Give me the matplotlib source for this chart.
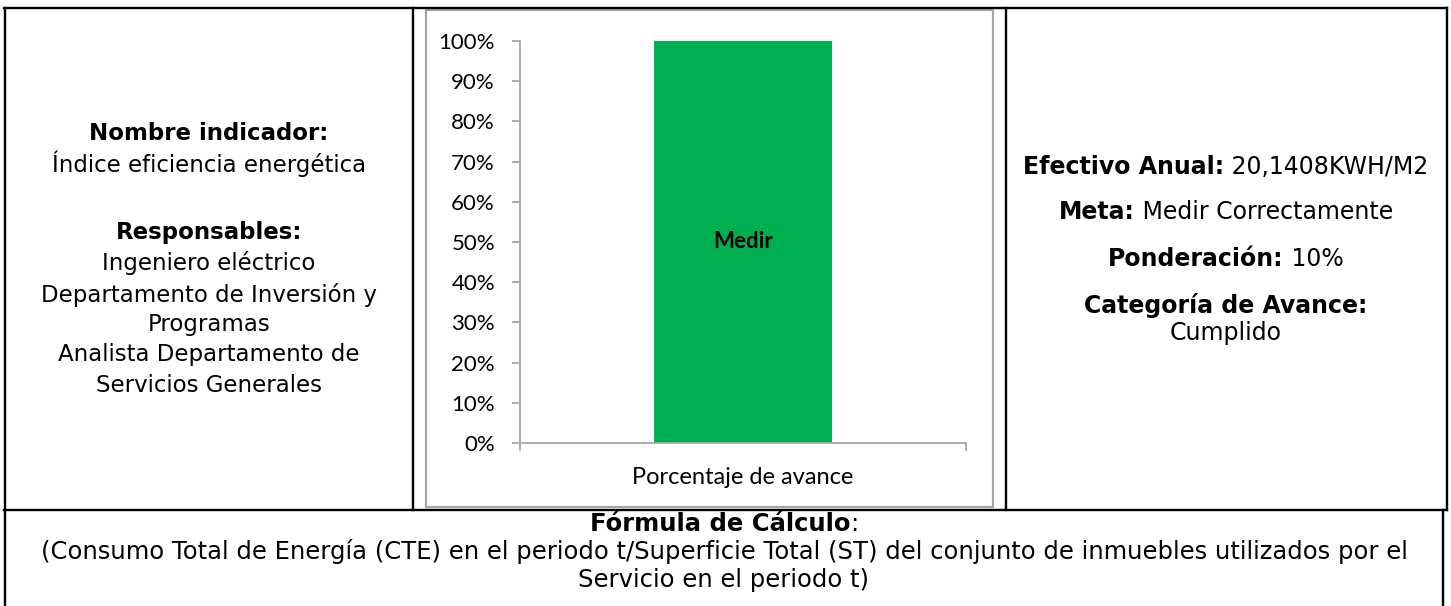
import matplotlib
matplotlib.use('Agg')
import matplotlib.pyplot as plt
from matplotlib.lines import Line2D
from matplotlib.patches import Rectangle

'''
datos
'''
categorias = ['Porcentaje de avance']
avance = [1.0]
etiqueta_barra = ['Medir']
ticks_y = [0, 0.1, 0.2, 0.3, 0.4, 0.5, 0.6, 0.7, 0.8, 0.9, 1.0]

lineas_izq = [('Nombre indicador:', 'bold'),
              ('Índice eficiencia energética', 'normal'),
              ('Responsables:', 'bold'),
              ('Ingeniero eléctrico', 'normal'),
              ('Departamento de Inversión y', 'normal'),
              ('Programas', 'normal'),
              ('Analista Departamento de', 'normal'),
              ('Servicios Generales', 'normal')]
y_izq = [133, 164, 232, 263, 295, 325, 355, 386]

lineas_der = [[('Efectivo Anual:', 'bold'), (' 20,1408KWH/M2', 'normal')],
              [('Meta:', 'bold'), (' Medir Correctamente', 'normal')],
              [('Ponderación:', 'bold'), (' 10%', 'normal')],
              [('Categoría de Avance:', 'bold')],
              [('Cumplido', 'normal')]]
y_der = [167, 212, 259, 305, 333]

lineas_abajo = [[('Fórmula de Cálculo', 'bold'), (':', 'normal')],
                [('(Consumo Total de Energía (CTE) en el periodo t/Superficie Total (ST) del conjunto de inmuebles utilizados por el', 'normal')],
                [('Servicio en el periodo t)', 'normal')]]
y_abajo = [524, 552, 580]

W, H = 1451, 606
fig = plt.figure(figsize=(W / 100, H / 100), dpi=100)
fig.patch.set_facecolor('white')
renderer = fig.canvas.get_renderer()

FUENTE = 'DejaVu Sans'


def px(x, y):
    return x / W, 1 - y / H


def linea(x0, y0, x1, y1, color='black', lw=1.7):
    a, b = px(x0, y0)
    c, d = px(x1, y1)
    fig.add_artist(Line2D([a, c], [b, d], color=color, lw=lw, transform=fig.transFigure,
                          solid_capstyle='projecting'))


def escribir(xc, y, partes, tam):
    # escribe una linea centrada con partes en negrita y normales
    objs = []
    for texto, peso in partes:
        t = fig.text(0, px(0, y)[1], texto, fontsize=tam, fontweight=peso,
                     family=FUENTE, va='center', ha='left')
        objs.append(t)
    anchos = [o.get_window_extent(renderer).width for o in objs]
    x = xc - sum(anchos) / 2
    for o, a in zip(objs, anchos):
        o.set_x(x / W)
        x += a


# bordes de la tabla
linea(4, 8, 1447, 8)
linea(5, 8, 5, 606)
linea(413, 8, 413, 510)
linea(1006, 8, 1006, 510)
linea(1447, 8, 1447, 510)
linea(4, 510, 1447, 510)
linea(1443, 510, 1443, 606)

# cuadro del grafico
x0, y0 = px(426, 507)
fig.add_artist(Rectangle((x0, y0), 567 / W, 497 / H, transform=fig.transFigure,
                         fill=False, edgecolor='#a6a6a6', lw=1.6))

# grafico de barras
ax = fig.add_axes([520 / W, 1 - 443 / H, 446 / W, 402 / H])
ax.bar(range(len(categorias)), avance, width=0.4, color='#00b050')
for i, v in enumerate(avance):
    ax.text(i, v / 2, etiqueta_barra[i], ha='center', va='center', fontsize=16,
            fontweight='bold', family='Lato')
ax.set_xlim(-0.5, 0.5)
ax.set_ylim(0, 1)
ax.set_yticks(ticks_y)
ax.set_yticklabels([f'{int(round(t * 100))}%' for t in ticks_y], family='Lato', fontsize=16)
ax.set_xticks(range(len(categorias)))
ax.set_xticklabels(categorias, family='Lato', fontsize=17)
ax.set_xticks([-0.5, 0.5], minor=True)
ax.tick_params(axis='x', which='major', length=0, pad=17)
ax.tick_params(axis='x', which='minor', length=6, color='#a6a6a6', width=1.3)
ax.tick_params(axis='y', length=6, color='#a6a6a6', width=1.3, pad=12)
for s in ['top', 'right']:
    ax.spines[s].set_visible(False)
for s in ['left', 'bottom']:
    ax.spines[s].set_color('#a6a6a6')
    ax.spines[s].set_linewidth(1.3)
ax.set_facecolor('none')

# textos
for (texto, peso), y in zip(lineas_izq, y_izq):
    escribir(209, y, [(texto, peso)], 16.5)
for partes, y in zip(lineas_der, y_der):
    escribir(1226, y, partes, 17)
for partes, y in zip(lineas_abajo, y_abajo):
    escribir(724, y, partes, 17.5)

fig.savefig('out.png', dpi=100)
